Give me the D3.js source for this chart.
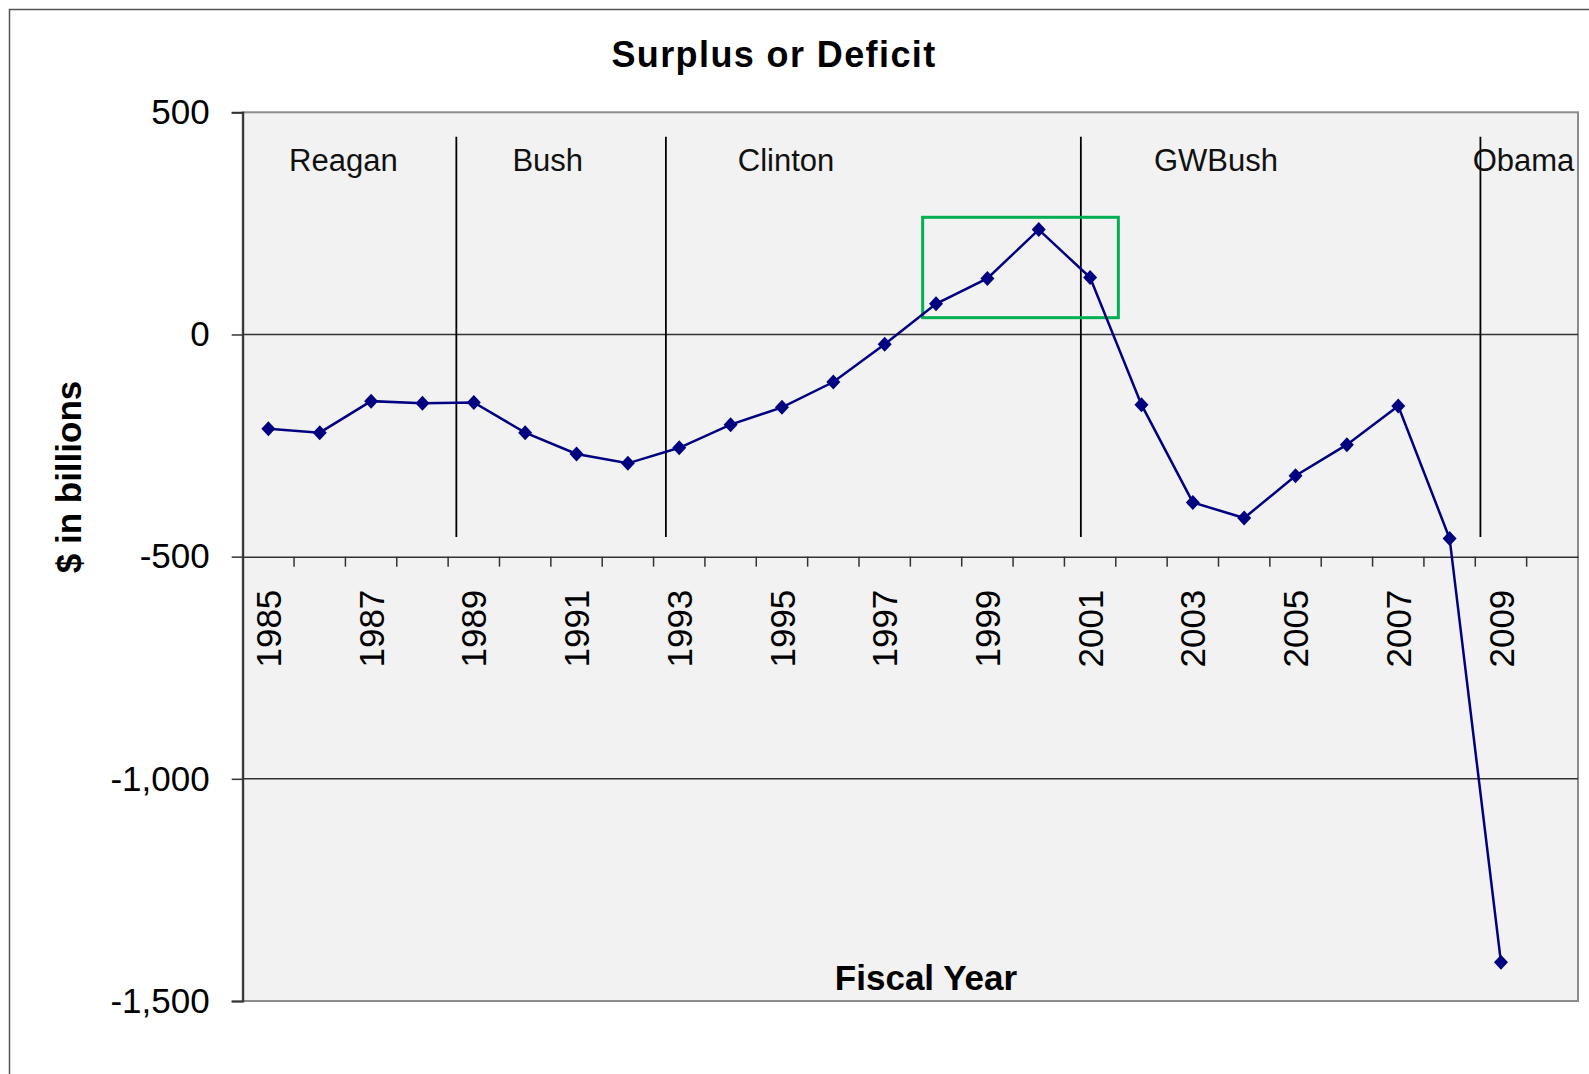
<!DOCTYPE html>
<html>
<head>
<meta charset="utf-8">
<script src="https://cdn.jsdelivr.net/npm/d3@7"></script>
<style>
    body { margin: 0; background: #fff; }
    text { font-family: "Liberation Sans", Arial, sans-serif; }
</style>
</head>
<body>
<svg id="chart" width="1589" height="1074"></svg>
<script>
var years = [1985, 1986, 1987, 1988, 1989, 1990, 1991, 1992, 1993, 1994, 1995, 1996, 1997,
             1998, 1999, 2000, 2001, 2002, 2003, 2004, 2005, 2006, 2007, 2008, 2009, 2010];
var surplus = [-212, -221, -150, -155, -153, -221, -269, -290, -255, -203, -164, -107, -22,
               69, 126, 236, 128, -158, -378, -413, -318, -248, -161, -459, -1413, null];
var yTicks = [500, 0, -500, -1000, -1500];
var yTickLabels = ["500", "0", "-500", "-1,000", "-1,500"];
var xTickLabels = ["1985", "1987", "1989", "1991", "1993", "1995", "1997", "1999", "2001", "2003", "2005", "2007", "2009"];

// presidents : divider at a (fractional) fiscal year, label at a year
var presidents = ["Reagan", "Bush", "Clinton", "GWBush", "Obama"];
var presidentLabelYears = [1986.46, 1990.44, 1995.08, 2003.45, 2008.45];
var dividerYears = [1988.66, 1992.74, 2000.82, 2008.6];
var dividerRange = [445, -456];

// green highlight box : [year from, year to], [value top, value bottom]
var highlightYears = [1997.74, 2001.55];
var highlightValues = [263.7, 37.8];

var plotLeft = 242.7, plotRight = 1578, plotTop = 112.3, plotBottom = 1001;

var svg = d3.select("#chart");

var x = d3.scaleBand()
    .domain(years)
    .range([plotLeft, plotRight])
    .padding(0);

var xYear = d3.scaleLinear()
    .domain([years[0] - 0.5, years[years.length - 1] + 0.5])
    .range([plotLeft, plotRight]);

var y = d3.scaleLinear()
    .domain([-1500, 500])
    .range([plotBottom, plotTop]);

// outer frame
svg.append("rect")
    .attr("x", 9.5)
    .attr("y", 9.5)
    .attr("width", 1700)
    .attr("height", 1200)
    .attr("fill", "none")
    .attr("stroke", "#555")
    .attr("stroke-width", 1.5);

// plot area
svg.append("rect")
    .attr("x", plotLeft)
    .attr("y", plotTop)
    .attr("width", plotRight - plotLeft)
    .attr("height", plotBottom - plotTop)
    .attr("fill", "#f2f2f2")
    .attr("stroke", "#8c8c8c")
    .attr("stroke-width", 2);

// gridlines
svg.append("g")
    .selectAll("line")
    .data([0, -1000])
    .enter()
    .append("line")
        .attr("x1", plotLeft)
        .attr("x2", plotRight)
        .attr("y1", function (d) { return y(d); })
        .attr("y2", function (d) { return y(d); })
        .attr("stroke", "#333")
        .attr("stroke-width", 1.5);

// y axis
var yAxis = svg.append("g")
    .attr("transform", "translate(" + plotLeft + ",0)")
    .call(d3.axisLeft(y)
        .tickValues(yTicks)
        .tickSize(11)
        .tickPadding(22)
        .tickFormat(function (d, i) { return yTickLabels[i]; }));

yAxis.select(".domain").attr("stroke", "#333").attr("stroke-width", 2);
yAxis.selectAll(".tick line").attr("stroke", "#333").attr("stroke-width", 1.5);
yAxis.selectAll(".tick text")
    .attr("font-size", 35)
    .attr("font-family", "Liberation Sans, Arial, sans-serif")
    .attr("fill", "#000");

// x axis (crosses at -500)
var xAxis = svg.append("g")
    .attr("transform", "translate(0," + y(-500) + ")")
    .call(d3.axisBottom(x).tickSize(0).tickFormat(""));

xAxis.select(".domain").attr("stroke", "#333").attr("stroke-width", 1.5);

svg.append("g")
    .selectAll("line")
    .data(years.slice(1))
    .enter()
    .append("line")
        .attr("x1", function (d) { return x(d); })
        .attr("x2", function (d) { return x(d); })
        .attr("y1", y(-500))
        .attr("y2", y(-500) + 10)
        .attr("stroke", "#333")
        .attr("stroke-width", 1.5);

svg.append("g")
    .selectAll("text")
    .data(xTickLabels)
    .enter()
    .append("text")
        .attr("transform", function (d) {
            return "translate(" + (x(+d) + x.bandwidth() / 2) + "," + (y(-500) + 33) + ") rotate(-90)";
        })
        .attr("text-anchor", "end")
        .attr("dy", "0.36em")
        .attr("font-size", 35)
        .text(function (d) { return d; });

// president dividers
svg.append("g")
    .selectAll("line")
    .data(dividerYears)
    .enter()
    .append("line")
        .attr("x1", function (d) { return xYear(d); })
        .attr("x2", function (d) { return xYear(d); })
        .attr("y1", y(dividerRange[0]))
        .attr("y2", y(dividerRange[1]))
        .attr("stroke", "#000")
        .attr("stroke-width", 1.8);

svg.append("g")
    .selectAll("text")
    .data(presidents)
    .enter()
    .append("text")
        .attr("x", function (d, i) { return xYear(presidentLabelYears[i]); })
        .attr("y", 171)
        .attr("text-anchor", function (d, i) { return i === presidents.length - 1 ? "start" : "middle"; })
        .attr("font-size", 31)
        .attr("fill", "#111")
        .text(function (d) { return d; });

// highlight box
svg.append("rect")
    .attr("x", xYear(highlightYears[0]))
    .attr("y", y(highlightValues[0]))
    .attr("width", xYear(highlightYears[1]) - xYear(highlightYears[0]))
    .attr("height", y(highlightValues[1]) - y(highlightValues[0]))
    .attr("fill", "none")
    .attr("stroke", "#00b050")
    .attr("stroke-width", 3);

// series
var points = years
    .map(function (yr, i) { return { year: yr, value: surplus[i] }; })
    .filter(function (p) { return p.value !== null; });

var line = d3.line()
    .x(function (p) { return x(p.year) + x.bandwidth() / 2; })
    .y(function (p) { return y(p.value); });

svg.append("path")
    .datum(points)
    .attr("d", line)
    .attr("fill", "none")
    .attr("stroke", "#000080")
    .attr("stroke-width", 2.5);

svg.append("g")
    .selectAll("path")
    .data(points)
    .enter()
    .append("path")
        .attr("transform", function (p) {
            return "translate(" + (x(p.year) + x.bandwidth() / 2) + "," + y(p.value) + ")";
        })
        .attr("d", "M0,-7.5L7,0L0,7.5L-7,0Z")
        .attr("fill", "#000080");

// titles
svg.append("text")
    .attr("x", 774)
    .attr("y", 67)
    .attr("text-anchor", "middle")
    .attr("font-size", 36)
    .attr("font-weight", "bold")
    .attr("letter-spacing", 1.4)
    .text("Surplus or Deficit");

svg.append("text")
    .attr("x", 926)
    .attr("y", 990)
    .attr("text-anchor", "middle")
    .attr("font-size", 35)
    .attr("font-weight", "bold")
    .text("Fiscal Year");

svg.append("text")
    .attr("transform", "translate(81,477) rotate(-90)")
    .attr("text-anchor", "middle")
    .attr("font-size", 35)
    .attr("font-weight", "bold")
    .text("$ in billions");
</script>
</body>
</html>
